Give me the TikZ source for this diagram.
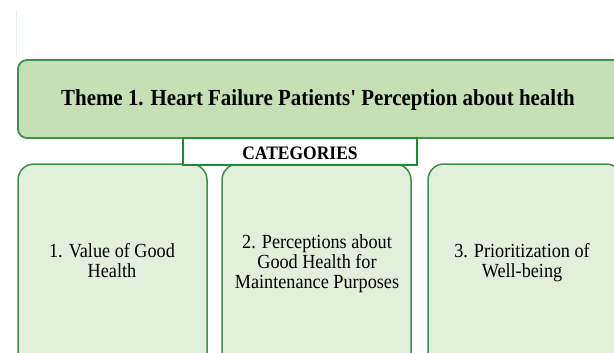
\documentclass[tikz,border=0pt]{standalone}
\usepackage{fontspec}
\newfontfamily\tnr{Liberation Serif}
\definecolor{topfill}{RGB}{198,224,182}
\definecolor{botfill}{RGB}{226,239,218}
\definecolor{edge}{RGB}{62,142,78}
\definecolor{boxedge}{RGB}{30,140,50}
\definecolor{faint}{RGB}{228,240,234}
\begin{document}
\begin{tikzpicture}[x=1pt,y=-1pt,
  themebox/.style={draw=edge,line width=1.8pt,fill=topfill,rounded corners=9pt},
  catbox/.style={draw=edge,line width=1.5pt,fill=botfill,rounded corners=16pt},
  labelbox/.style={draw=boxedge,line width=2.6pt,fill=white},
  cattext/.style={align=center,anchor=base,xscale=0.91,font=\tnr\fontsize{20}{20}\selectfont}]
\useasboundingbox (0,0) rectangle (614,353);
\clip (0,0) rectangle (614,353);
\draw[faint,line width=1pt] (16,10) -- (16,56);
\draw[themebox] (18,60) rectangle (622,138);
\node[anchor=base,xscale=0.91,font=\tnr\bfseries\fontsize{23}{26}\selectfont] (theme) at (318,106) {Theme 1. Heart Failure Patients' Perception about health};
\draw[catbox] (18,164) rectangle (207,380);
\draw[catbox] (222,164) rectangle (411,380);
\draw[catbox] (428,164) rectangle (622,380);
\node[cattext] (c1) at (112,277) {1. Value of Good\\Health};
\node[cattext] (c2) at (317,288) {2. Perceptions about\\Good Health for\\Maintenance Purposes};
\node[cattext] (c3) at (522,277) {3. Prioritization of\\Well-being};
\draw[labelbox] (183,138) rectangle (417,165);
\node[anchor=base,xscale=0.92,font=\tnr\bfseries\fontsize{19}{22}\selectfont] (cat) at (300,159) {CATEGORIES};
\end{tikzpicture}
\end{document}
